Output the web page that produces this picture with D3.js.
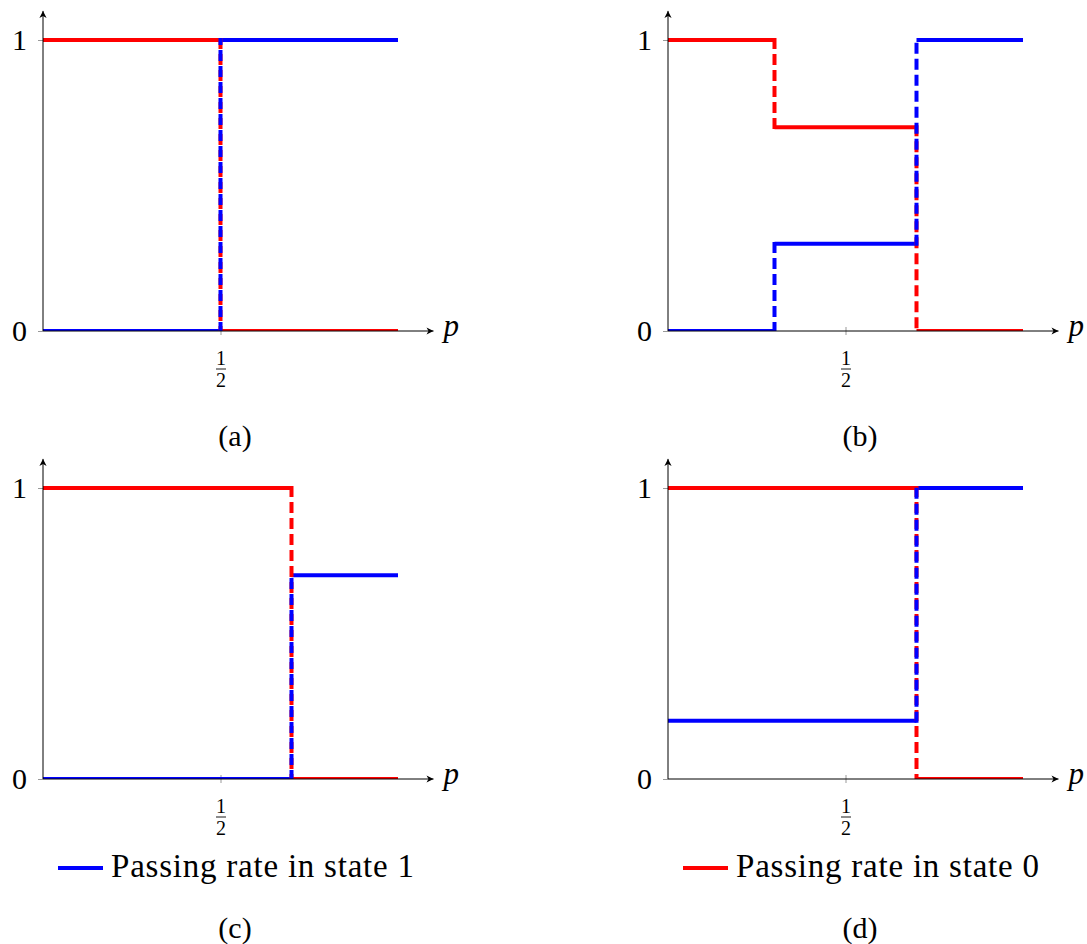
<!DOCTYPE html>
<html lang="en">
<head>
    <meta charset="UTF-8">
    <title>Passing rates in state 0 and state 1</title>
    <script src="https://d3js.org/d3.v7.min.js"></script>
    <style>
        body {
            margin: 0;
            background: #fff;
        }
    </style>
</head>
<body>
    <div id="chart"></div>

    <script>
        // p where the passing rate jumps, and the rate on each interval between them
        const panelNames = ["(a)", "(b)", "(c)", "(d)"];
        const breaksA = [0, 0.5, 1];
        const state1A = [0, 1];
        const state0A = [1, 0];
        const breaksB = [0, 0.3, 0.7, 1];
        const state1B = [0, 0.3, 1];
        const state0B = [1, 0.7, 0];
        const breaksC = [0, 0.7, 1];
        const state1C = [0, 0.7];
        const state0C = [1, 0];
        const breaksD = [0, 0.7, 1];
        const state1D = [0.2, 1];
        const state0D = [1, 0];
        const yTicks = [0, 1];
        const xTicks = [0.5];
        const legendNames = ["Passing rate in state 1", "Passing rate in state 0"];

        const panels = [
            { name: panelNames[0], breaks: breaksA, state1: state1A, state0: state0A },
            { name: panelNames[1], breaks: breaksB, state1: state1B, state0: state0B },
            { name: panelNames[2], breaks: breaksC, state1: state1C, state0: state0C },
            { name: panelNames[3], breaks: breaksD, state1: state1D, state0: state0D }
        ];

        const colors = { state1: "#0000ff", state0: "#ff0000" };
        const serif = "'Liberation Serif'";
        const plotW = 355, plotH = 291;

        const svg = d3.select("#chart")
            .append("svg")
            .attr("width", 1087)
            .attr("height", 944);

        const defs = svg.append("defs");
        defs.append("marker")
            .attr("id", "arrow")
            .attr("viewBox", "-8 -4 9 8")
            .attr("refX", 0)
            .attr("refY", 0)
            .attr("markerWidth", 9)
            .attr("markerHeight", 8)
            .attr("markerUnits", "userSpaceOnUse")
            .attr("orient", "auto")
            .append("path")
            .attr("d", "M-7,-3.6 L0,0 L-7,3.6 L-5,0 Z")
            .attr("fill", "#000");

        // split a step function into flat (solid) and jump (dashed) pieces
        function steps(breaks, levels) {
            const flat = [], jump = [];
            levels.forEach((v, i) => {
                flat.push([[breaks[i], v], [breaks[i + 1], v]]);
                if (i < levels.length - 1) {
                    jump.push([[breaks[i + 1], v], [breaks[i + 1], levels[i + 1]]]);
                }
            });
            return { flat, jump };
        }

        panels.forEach((panel, i) => {
            const col = i % 2, row = Math.floor(i / 2);
            const ox = 43 + col * 625;
            const oy = 331 + row * 448;

            const x = d3.scaleLinear().domain([0, 1]).range([ox, ox + plotW]);
            const y = d3.scaleLinear().domain([0, 1]).range([oy, oy - plotH]);
            const line = d3.line().x(d => x(d[0])).y(d => y(d[1]));

            const g = svg.append("g");

            // tick marks and labels
            const yAxis = g.append("g")
                .attr("transform", `translate(${ox},0)`)
                .call(d3.axisLeft(y).tickValues(yTicks).tickSize(5).tickPadding(11).tickFormat(d3.format("d")));
            yAxis.attr("font-family", null).attr("font-size", null);
            yAxis.select(".domain").remove();
            yAxis.selectAll(".tick line").attr("stroke", "#999");
            yAxis.selectAll(".tick text")
                .attr("font-family", serif)
                .attr("font-size", 30);

            const xAxis = g.append("g")
                .attr("transform", `translate(0,${oy})`)
                .call(d3.axisBottom(x).tickValues(xTicks).tickSize(4).tickFormat(""));
            xAxis.attr("font-family", null).attr("font-size", null);
            xAxis.select(".domain").remove();
            xAxis.selectAll(".tick line").attr("y1", -4).attr("stroke", "#999");
            const frac = xAxis.selectAll(".tick");
            frac.append("text")
                .attr("y", 34)
                .attr("text-anchor", "middle")
                .attr("fill", "#000")
                .attr("font-family", serif)
                .attr("font-size", 20)
                .text("1");
            frac.append("line")
                .attr("x1", -5).attr("x2", 5)
                .attr("y1", 38).attr("y2", 38)
                .attr("stroke", "#000")
                .attr("stroke-width", 0.9);
            frac.append("text")
                .attr("y", 56)
                .attr("text-anchor", "middle")
                .attr("fill", "#000")
                .attr("font-family", serif)
                .attr("font-size", 20)
                .text("2");

            // rate curves, clipped to the axis box
            const clipId = "clip" + i;
            defs.append("clipPath")
                .attr("id", clipId)
                .append("rect")
                .attr("x", ox)
                .attr("y", y(1.1))
                .attr("width", x(1.1) - ox)
                .attr("height", oy - y(1.1));

            const curves = g.append("g").attr("clip-path", `url(#${clipId})`);
            const red = steps(panel.breaks, panel.state0);
            const blue = steps(panel.breaks, panel.state1);

            [[red.flat, colors.state0], [blue.flat, colors.state1]].forEach(([segs, c]) => {
                curves.selectAll(null)
                    .data(segs)
                    .enter().append("path")
                    .attr("d", line)
                    .attr("fill", "none")
                    .attr("stroke", c)
                    .attr("stroke-width", 4);
            });
            [[red.jump, colors.state0], [blue.jump, colors.state1]].forEach(([segs, c]) => {
                curves.selectAll(null)
                    .data(segs)
                    .enter().append("path")
                    .attr("d", line)
                    .attr("fill", "none")
                    .attr("stroke", c)
                    .attr("stroke-width", 4)
                    .attr("stroke-linecap", "square")
                    .attr("stroke-dasharray", "7,9");
            });

            // axis lines with arrow heads
            g.append("line")
                .attr("x1", ox).attr("y1", oy)
                .attr("x2", x(1.1)).attr("y2", oy)
                .attr("stroke", "#000")
                .attr("stroke-width", 1)
                .attr("marker-end", "url(#arrow)");
            g.append("line")
                .attr("x1", ox).attr("y1", oy)
                .attr("x2", ox).attr("y2", y(1.1))
                .attr("stroke", "#000")
                .attr("stroke-width", 1)
                .attr("marker-end", "url(#arrow)");

            g.append("text")
                .attr("x", x(1.1) + 10)
                .attr("y", oy + 5)
                .attr("font-family", serif)
                .attr("font-size", 31)
                .attr("font-style", "italic")
                .text("p");

            // legend under the bottom row
            if (row === 1) {
                const key = col === 0 ? "state1" : "state0";
                g.append("line")
                    .attr("x1", ox + 15).attr("x2", ox + 60)
                    .attr("y1", oy + 89).attr("y2", oy + 89)
                    .attr("stroke", colors[key])
                    .attr("stroke-width", 4);
                g.append("text")
                    .attr("x", ox + 68)
                    .attr("y", oy + 98)
                    .attr("textLength", 303)
                    .attr("lengthAdjust", "spacing")
                    .attr("font-family", serif)
                    .attr("font-size", 33)
                    .text(legendNames[col]);
            }

            g.append("text")
                .attr("x", ox + 192)
                .attr("y", oy + (row === 0 ? 115 : 159))
                .attr("text-anchor", "middle")
                .attr("font-family", serif)
                .attr("font-size", 30)
                .text(panel.name);
        });
    </script>
</body>
</html>
